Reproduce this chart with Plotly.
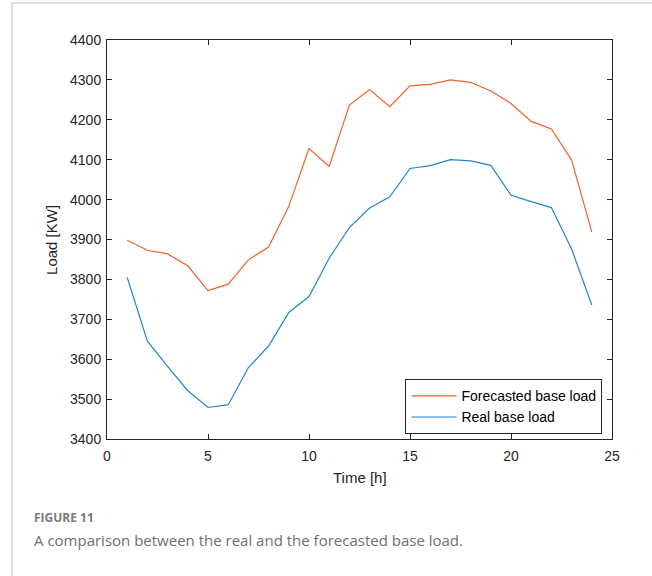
import plotly.graph_objects as go

hours = list(range(1, 25))
forecasted = [3898, 3873, 3864, 3834, 3772, 3788, 3849, 3881, 3983, 4128, 4083, 4237,
              4276, 4233, 4285, 4289, 4300, 4294, 4272, 4241, 4196, 4177, 4099, 3919]
real = [3805, 3645, 3582, 3521, 3479, 3486, 3579, 3633, 3717, 3757, 3853, 3930,
        3979, 4007, 4078, 4085, 4100, 4097, 4086, 4011, 3995, 3980, 3876, 3736]

x_ticks = [0, 5, 10, 15, 20, 25]
y_ticks = [3400, 3500, 3600, 3700, 3800, 3900, 4000, 4100, 4200, 4300, 4400]

FONT = "Liberation Sans"

fig = go.Figure()
fig.add_trace(go.Scatter(x=hours, y=forecasted, mode="lines", name="Forecasted base load",
                         line=dict(color="#F0622A", width=1.2)))
fig.add_trace(go.Scatter(x=hours, y=real, mode="lines", name="Real base load",
                         line=dict(color="#2384CE", width=1.2)))

axis_common = dict(showline=True, linecolor="#262626", linewidth=1, mirror="ticks",
                   ticks="inside", ticklen=5, tickcolor="#262626", showgrid=False,
                   zeroline=False, tickfont=dict(family=FONT, size=14, color="#262626"))
fig.update_xaxes(range=[0, 25], tickvals=x_ticks, ticklabelstandoff=4, **axis_common)
fig.update_yaxes(range=[3400, 4400], tickvals=y_ticks, ticklabelstandoff=2, **axis_common)

fig.update_layout(
    width=652, height=576,
    margin=dict(l=107, r=40, t=40, b=137),
    plot_bgcolor="white", paper_bgcolor="white",
    showlegend=True,
    legend=dict(x=0.981, y=0.012, xanchor="right", yanchor="bottom",
                bordercolor="#262626", borderwidth=1, bgcolor="white",
                font=dict(family=FONT, size=14, color="#000"),
                tracegroupgap=0, itemwidth=45),
    annotations=[
        dict(text="Time [h]", xref="paper", yref="paper", x=0.5, y=-0.07, xanchor="center",
             yanchor="top", showarrow=False,
             font=dict(family=FONT, size=15, color="#262626")),
        dict(text="Load [KW]", xref="paper", yref="paper", x=-0.11, y=0.5, xanchor="center",
             yanchor="middle", showarrow=False, textangle=-90,
             font=dict(family=FONT, size=15, color="#262626")),
        dict(text="<b>FIGURE 11</b>", xref="paper", yref="paper", x=(32 - 107) / 505, y=-0.197,
             xanchor="left", yanchor="middle", showarrow=False,
             font=dict(family="Open Sans", size=12, color="#7a7a7a")),
        dict(text="A comparison between the real and the forecasted base load.", xref="paper",
             yref="paper", x=(32 - 107) / 505, y=-0.253, xanchor="left", yanchor="middle",
             showarrow=False,
             font=dict(family="Open Sans", size=15, color="#6f6f6f")),
    ],
    shapes=[
        dict(type="line", xref="paper", yref="paper", x0=(12 - 107) / 505, x1=(12 - 107) / 505,
             y0=(439 - 3) / 399, y1=(439 - 580) / 399, line=dict(color="#d4d4d4", width=1.5)),
        dict(type="line", xref="paper", yref="paper", x0=(12 - 107) / 505, x1=(660 - 107) / 505,
             y0=(439 - 3) / 399, y1=(439 - 3) / 399, line=dict(color="#d4d4d4", width=1.5)),
    ],
)

fig.write_html("out.html")
